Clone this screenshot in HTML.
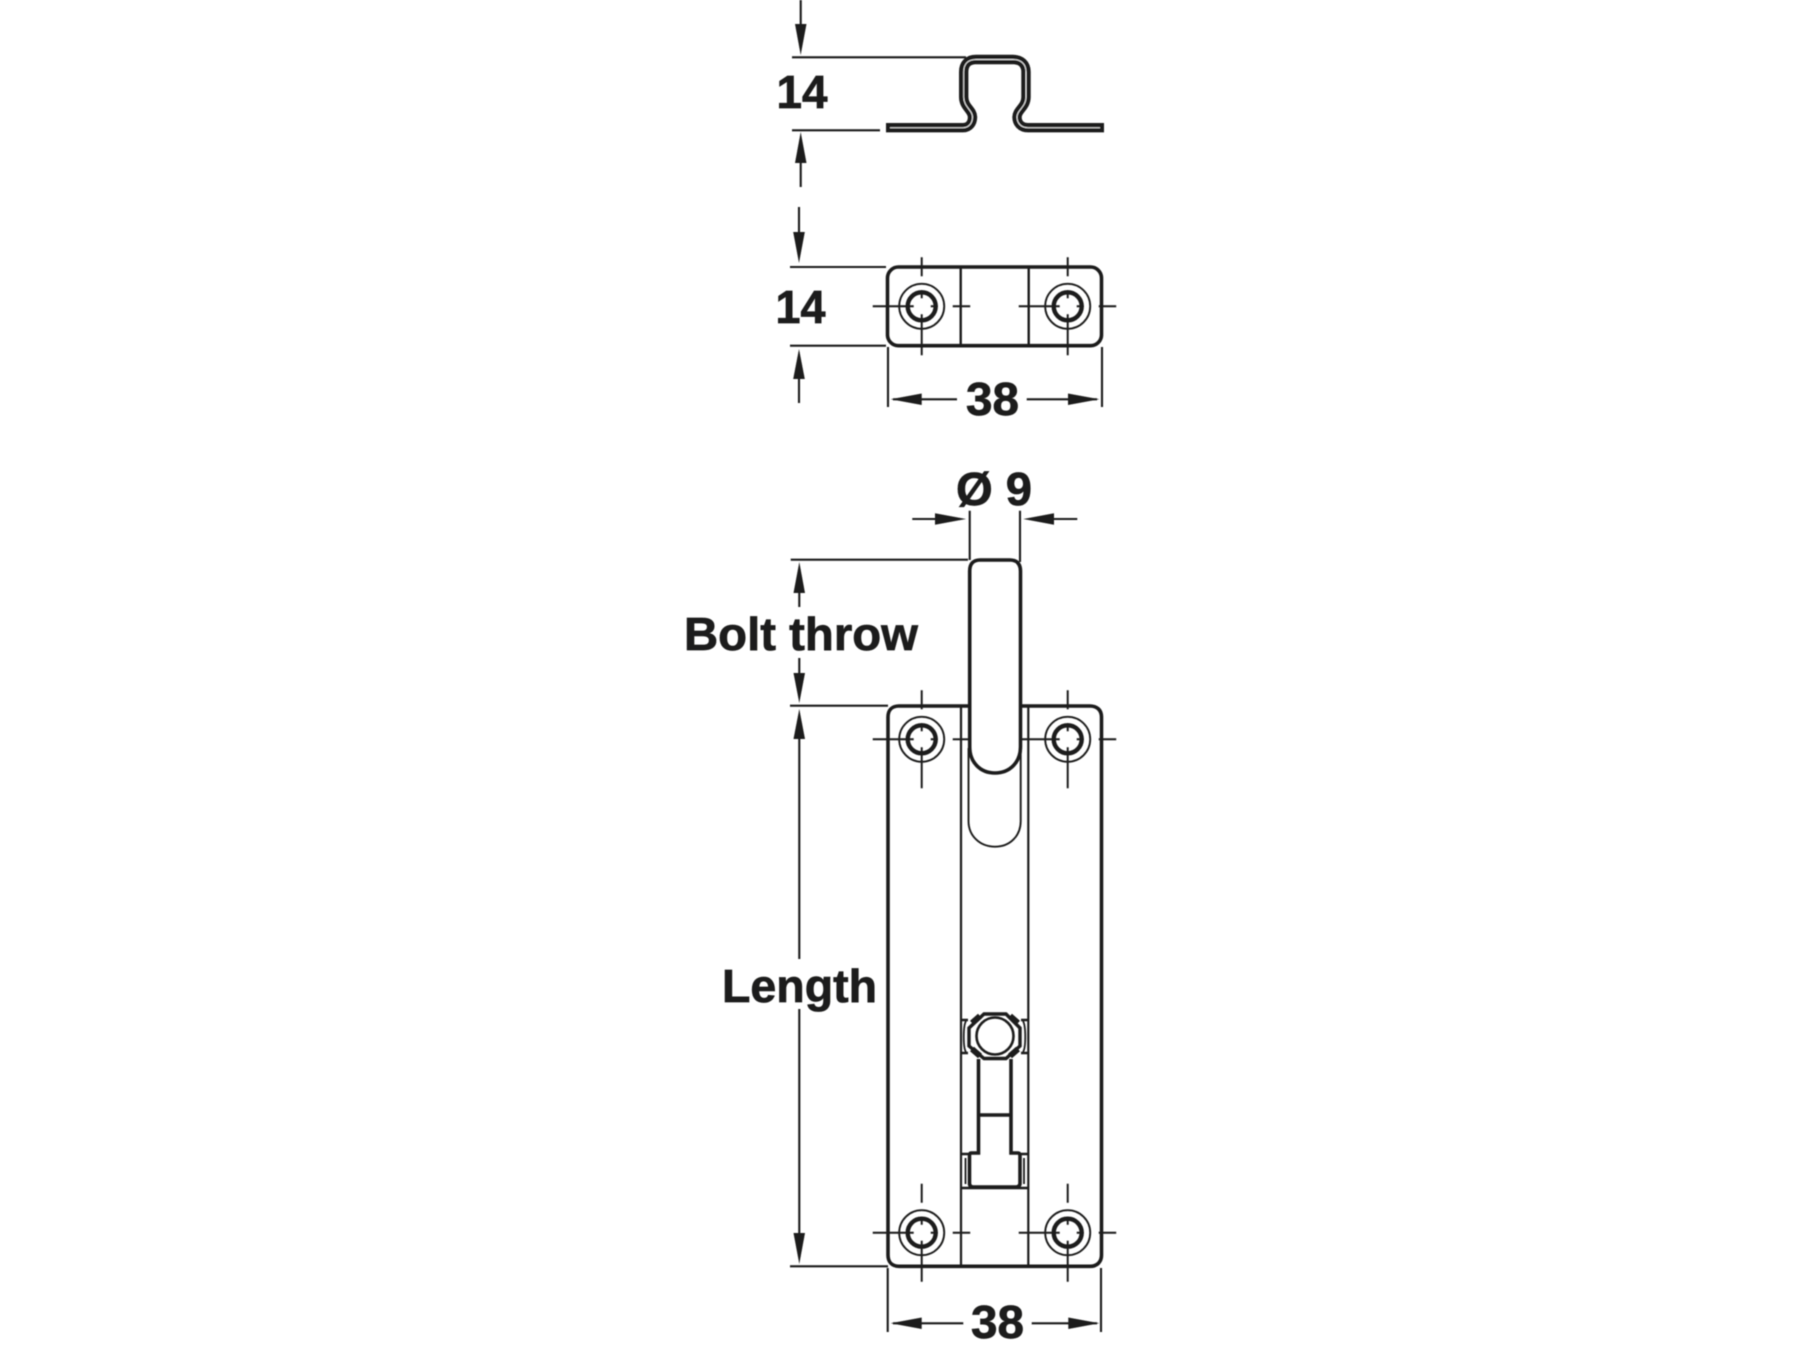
<!DOCTYPE html>
<html><head><meta charset="utf-8"><style>
html,body{margin:0;padding:0;background:#fff}
svg{display:block}
text{font-family:"Liberation Sans",Arial,sans-serif;font-weight:700;font-size:46px;fill:#1d1d1b;stroke:#1d1d1b;stroke-width:.7px}
</style></head><body>
<svg width="1800" height="1350" viewBox="0 0 1800 1350" xmlns="http://www.w3.org/2000/svg">
<defs>
<filter id="b" x="-5%" y="-5%" width="110%" height="110%"><feGaussianBlur stdDeviation="0.6"/></filter>
<g id="hole" fill="none" stroke="#1d1d1b">
<circle r="22.5" stroke-width="1.9"/>
<circle r="14" stroke-width="4.4"/>
<path stroke-width="2" d="M9,0H16M0,-16V-8M-16,0H-8M0,8V49M0,-49V-30"/>
</g>
<g id="hl" stroke="#1d1d1b" stroke-width="2"><path d="M-49,0H-14"/></g>
<g id="hr" stroke="#1d1d1b" stroke-width="2"><path d="M31,0H48.5"/></g>
</defs>
<g filter="url(#b)">
<!-- top profile -->
<g fill="none" stroke="#1d1d1b" stroke-linecap="butt">
<path d="M800.7,0V26M792,57.3H966M792,130.3H880M800.7,160V187M799,207V232M790,267H886M790,345.7H886M799,376V403" stroke-width="2.1"/>
<path d="M886,127.7H963C969,127.7 972.5,123 972.5,117C972.5,110 963.7,107 963.7,97V72C963.7,64 968,59.5 976,59.5H1013C1021,59.5 1026,64 1026,72V97C1026,107 1017,110 1017,117C1017,123 1021,127.7 1028,127.7H1104" stroke-width="9.4"/>
<path d="M890,127.7H963C969,127.7 972.5,123 972.5,117C972.5,110 963.7,107 963.7,97V72C963.7,64 968,59.5 976,59.5H1013C1021,59.5 1026,64 1026,72V97C1026,107 1017,110 1017,117C1017,123 1021,127.7 1028,127.7H1100" stroke="#e8e8e8" stroke-width="1"/>
</g>
<g fill="#1d1d1b">
<polygon points="795,24 806.5,24 800.7,55"/>
<polygon points="795,163 806.5,163 800.7,132"/>
<polygon points="793.2,232 804.8,232 799,263"/>
<polygon points="793.2,379 804.8,379 799,349"/>
</g>
<text x="776.5" y="108" textLength="51" lengthAdjust="spacingAndGlyphs">14</text>
<text x="775.5" y="323" textLength="50" lengthAdjust="spacingAndGlyphs">14</text>

<!-- small plate -->
<rect x="887.5" y="267" width="214" height="78.7" rx="11" fill="none" stroke="#1d1d1b" stroke-width="3.6"/>
<path d="M960.7,267V345M1028.7,267V345" stroke="#1d1d1b" stroke-width="2.4"/>
<use href="#hole" x="921.7" y="306.3"/><use href="#hl" x="921.7" y="306.3"/><use href="#hr" x="921.7" y="306.3"/>
<use href="#hole" x="1067.7" y="306.3"/><use href="#hl" x="1067.7" y="306.3"/><use href="#hr" x="1067.7" y="306.3"/>
<path d="M888,347V407M1102,347V407M893,399.3H957M1026.7,399.3H1097" fill="none" stroke="#1d1d1b" stroke-width="2.1"/>
<polygon points="890.7,399.3 921.7,393.5 921.7,405" fill="#1d1d1b"/>
<polygon points="1099.3,399.3 1068,393.5 1068,405" fill="#1d1d1b"/>
<text x="966" y="415" textLength="53" lengthAdjust="spacingAndGlyphs">38</text>

<!-- diameter -->
<text x="956" y="505" textLength="76" lengthAdjust="spacingAndGlyphs">Ø 9</text>
<path d="M912.3,519H940M1050,519H1077.3M969.7,510.7V560M1020,510.7V562" fill="none" stroke="#1d1d1b" stroke-width="2.1"/>
<polygon points="966,519 935,513.2 935,524.8" fill="#1d1d1b"/>
<polygon points="1023.3,519 1054,513.2 1054,524.8" fill="#1d1d1b"/>

<!-- bolt throw + length dims -->
<path d="M790.7,559.7H968M790,705.7H888M790,1266.3H888M799.3,590V607M799.3,658V676M799.3,736V959M799.3,1009V1236" fill="none" stroke="#1d1d1b" stroke-width="2.1"/>
<g fill="#1d1d1b">
<polygon points="799.3,562 793.5,593 805,593"/>
<polygon points="799.3,703 793.5,673 805,673"/>
<polygon points="799.3,709 793.5,739 805,739"/>
<polygon points="799.3,1264 793.5,1233 805,1233"/>
</g>
<text x="684" y="650" textLength="234" lengthAdjust="spacingAndGlyphs">Bolt throw</text>
<text x="722" y="1002" textLength="155" lengthAdjust="spacingAndGlyphs">Length</text>

<!-- main plate -->
<path d="M968,706H899C892,706 888,710 888,717V1255C888,1262 892,1266.3 899,1266.3H1090C1097,1266.3 1101.5,1262 1101.5,1255V717C1101.5,710 1097,706 1090,706H1020" fill="none" stroke="#1d1d1b" stroke-width="3.6"/>
<path d="M961,706V1266M1028.3,706V1266" stroke="#1d1d1b" stroke-width="2.2"/>
<!-- slot -->
<path d="M968.5,748V821C968.5,836 980,846.7 995,846.7C1010,846.7 1020.7,836 1020.7,821V748" fill="none" stroke="#1d1d1b" stroke-width="1.9"/>
<!-- holes -->
<use href="#hole" x="921.7" y="739.3"/><use href="#hl" x="921.7" y="739.3"/>
<path d="M952.7,739.3H968" stroke="#1d1d1b" stroke-width="2"/>
<use href="#hole" x="1067.7" y="739.3"/><use href="#hr" x="1067.7" y="739.3"/>
<path d="M1021.7,739.3H1053" stroke="#1d1d1b" stroke-width="2"/>
<use href="#hole" x="921.7" y="1232.7"/><use href="#hl" x="921.7" y="1232.7"/><use href="#hr" x="921.7" y="1232.7"/>
<use href="#hole" x="1067.7" y="1232.7"/><use href="#hl" x="1067.7" y="1232.7"/><use href="#hr" x="1067.7" y="1232.7"/>
<!-- bolt -->
<path d="M969.7,747V571C969.7,564 973,560 980,560H1010C1017,560 1020.5,564 1020.5,571V747C1020.5,762 1010,773 995,773C980,773 969.7,762 969.7,747Z" fill="none" stroke="#1d1d1b" stroke-width="3.6"/>
<!-- mechanism -->
<g fill="none" stroke="#1d1d1b">
<path d="M961,1020H968M961,1053H968M1021,1020H1028M1021,1053H1028" stroke-width="2.4"/>
<path d="M966,1021C963,1026 963,1048 966,1052M1023,1021C1026,1026 1026,1048 1023,1052" stroke-width="1.8"/>
<path d="M984,1014H1006L1020,1028V1046L1006,1058.5H984L969,1046V1028Z" stroke-width="3.4"/>
<circle cx="995" cy="1036" r="18.5" stroke-width="2.6"/>
<path d="M972,1023L980,1016M1018,1023L1010,1016M972,1049L980,1056M1018,1049L1010,1056" stroke-width="6"/>
<path d="M978.5,1059V1153H971Q969.5,1153 969.5,1156V1183Q969.5,1187 973,1187H1016Q1020,1187 1020,1183V1156Q1020,1153 1018,1153H1011V1059" stroke-width="3.6"/>
<path d="M978.5,1115H1011" stroke-width="3.6"/>
<path d="M961,1154H969M1020,1154H1028M961,1188H1028" stroke-width="2.4"/>
<path d="M965.5,1158V1184M1024,1158V1184" stroke-width="1.8"/>
</g>
<!-- bottom 38 -->
<path d="M887.7,1268V1332M1101,1268V1332M893,1323.3H963.3M1031.7,1323.3H1097" fill="none" stroke="#1d1d1b" stroke-width="2.1"/>
<polygon points="890.7,1323.3 921.7,1317.5 921.7,1329" fill="#1d1d1b"/>
<polygon points="1099.3,1323.3 1068.3,1317.5 1068.3,1329" fill="#1d1d1b"/>
<text x="971" y="1338" textLength="53" lengthAdjust="spacingAndGlyphs">38</text>
</g>
</svg>
</body></html>
